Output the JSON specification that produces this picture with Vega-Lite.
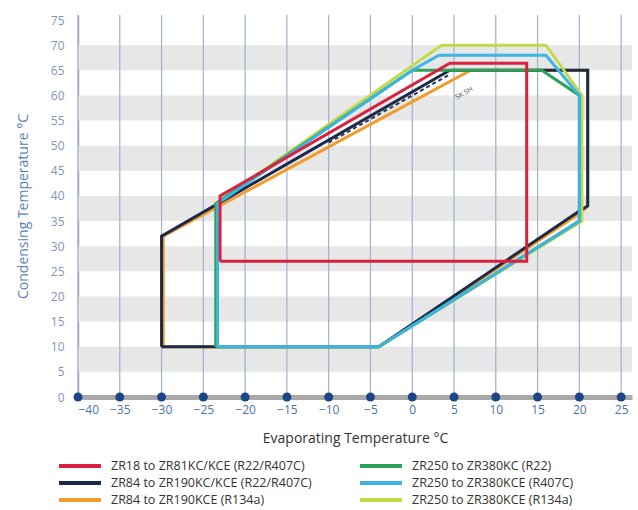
{
  "$schema": "https://vega.github.io/schema/vega-lite/v6.json",
  "autosize": {"type": "none"},
  "padding": {"left": 78, "top": 15, "right": 6, "bottom": 113},
  "width": 554,
  "height": 382,
  "background": "white",
  "config": {
    "view": {"stroke": null},
    "font": "Open Sans",
    "axis": {"labelOverlap": false, "labelSeparation": 0},
    "axisY": {"labelOverlap": false},
    "axisX": {"labelOverlap": false}
  },
  "datasets": {
    "bands": [
      {"lo": 5, "hi": 10}, {"lo": 15, "hi": 20}, {"lo": 25, "hi": 30},
      {"lo": 35, "hi": 40}, {"lo": 45, "hi": 50}, {"lo": 55, "hi": 60}, {"lo": 65, "hi": 70}
    ],
    "ticks": [
      {"t": -40}, {"t": -35}, {"t": -30}, {"t": -25}, {"t": -20}, {"t": -15}, {"t": -10},
      {"t": -5}, {"t": 0}, {"t": 5}, {"t": 10}, {"t": 15}, {"t": 20}, {"t": 25}
    ],
    "env": [
      {"s": "ZR84 to ZR190KCE (R134a)", "i": 0, "x": -29.8, "y": 10},
      {"s": "ZR84 to ZR190KCE (R134a)", "i": 1, "x": -29.8, "y": 32},
      {"s": "ZR84 to ZR190KCE (R134a)", "i": 2, "x": 7, "y": 65},
      {"s": "ZR84 to ZR190KCE (R134a)", "i": 3, "x": 21, "y": 65},
      {"s": "ZR84 to ZR190KCE (R134a)", "i": 4, "x": 21, "y": 38},
      {"s": "ZR84 to ZR190KCE (R134a)", "i": 5, "x": 20, "y": 36.5},
      {"s": "ZR84 to ZR190KCE (R134a)", "i": 6, "x": -4, "y": 10},
      {"s": "ZR84 to ZR190KCE (R134a)", "i": 7, "x": -29.8, "y": 10},

      {"s": "ZR84 to ZR190KC/KCE (R22/R407C)", "i": 0, "x": -30, "y": 10},
      {"s": "ZR84 to ZR190KC/KCE (R22/R407C)", "i": 1, "x": -30, "y": 32},
      {"s": "ZR84 to ZR190KC/KCE (R22/R407C)", "i": 2, "x": 4.5, "y": 65},
      {"s": "ZR84 to ZR190KC/KCE (R22/R407C)", "i": 3, "x": 21, "y": 65},
      {"s": "ZR84 to ZR190KC/KCE (R22/R407C)", "i": 4, "x": 21, "y": 38},
      {"s": "ZR84 to ZR190KC/KCE (R22/R407C)", "i": 5, "x": 20, "y": 37},
      {"s": "ZR84 to ZR190KC/KCE (R22/R407C)", "i": 6, "x": -4, "y": 10},
      {"s": "ZR84 to ZR190KC/KCE (R22/R407C)", "i": 7, "x": -30, "y": 10},

      {"s": "ZR250 to ZR380KCE (R134a)", "i": 0, "x": -23.5, "y": 10},
      {"s": "ZR250 to ZR380KCE (R134a)", "i": 1, "x": -23.5, "y": 38.5},
      {"s": "ZR250 to ZR380KCE (R134a)", "i": 2, "x": 3.5, "y": 70},
      {"s": "ZR250 to ZR380KCE (R134a)", "i": 3, "x": 16, "y": 70},
      {"s": "ZR250 to ZR380KCE (R134a)", "i": 4, "x": 20.3, "y": 60},
      {"s": "ZR250 to ZR380KCE (R134a)", "i": 5, "x": 20.3, "y": 35},
      {"s": "ZR250 to ZR380KCE (R134a)", "i": 6, "x": -4, "y": 10},
      {"s": "ZR250 to ZR380KCE (R134a)", "i": 7, "x": -23.5, "y": 10},

      {"s": "ZR250 to ZR380KC (R22)", "i": 0, "x": -23.5, "y": 10},
      {"s": "ZR250 to ZR380KC (R22)", "i": 1, "x": -23.5, "y": 38.5},
      {"s": "ZR250 to ZR380KC (R22)", "i": 2, "x": 0, "y": 65},
      {"s": "ZR250 to ZR380KC (R22)", "i": 3, "x": 15.5, "y": 65},
      {"s": "ZR250 to ZR380KC (R22)", "i": 4, "x": 20, "y": 60},
      {"s": "ZR250 to ZR380KC (R22)", "i": 5, "x": 20, "y": 35},
      {"s": "ZR250 to ZR380KC (R22)", "i": 6, "x": -4, "y": 10},
      {"s": "ZR250 to ZR380KC (R22)", "i": 7, "x": -23.5, "y": 10},

      {"s": "ZR250 to ZR380KCE (R407C)", "i": 0, "x": -23.3, "y": 10},
      {"s": "ZR250 to ZR380KCE (R407C)", "i": 1, "x": -23.3, "y": 38.5},
      {"s": "ZR250 to ZR380KCE (R407C)", "i": 2, "x": 0, "y": 65},
      {"s": "ZR250 to ZR380KCE (R407C)", "i": 3, "x": 3.2, "y": 68},
      {"s": "ZR250 to ZR380KCE (R407C)", "i": 4, "x": 16, "y": 68},
      {"s": "ZR250 to ZR380KCE (R407C)", "i": 5, "x": 20, "y": 60},
      {"s": "ZR250 to ZR380KCE (R407C)", "i": 6, "x": 20, "y": 35},
      {"s": "ZR250 to ZR380KCE (R407C)", "i": 7, "x": -4, "y": 10},
      {"s": "ZR250 to ZR380KCE (R407C)", "i": 8, "x": -23.3, "y": 10},

      {"s": "ZR18 to ZR81KC/KCE (R22/R407C)", "i": 0, "x": -23, "y": 27},
      {"s": "ZR18 to ZR81KC/KCE (R22/R407C)", "i": 1, "x": -23, "y": 40},
      {"s": "ZR18 to ZR81KC/KCE (R22/R407C)", "i": 2, "x": 4.5, "y": 66.4},
      {"s": "ZR18 to ZR81KC/KCE (R22/R407C)", "i": 3, "x": 13.7, "y": 66.4},
      {"s": "ZR18 to ZR81KC/KCE (R22/R407C)", "i": 4, "x": 13.7, "y": 27},
      {"s": "ZR18 to ZR81KC/KCE (R22/R407C)", "i": 5, "x": -23, "y": 27}
    ],
    "sh": [
      {"i": 0, "x": -10, "y": 50.6},
      {"i": 1, "x": 4.5, "y": 64.2}
    ],
    "shlabel": [
      {"x": 6.2, "y": 60.4, "t": "5K SH"}
    ]
  },
  "layer": [
    {
      "data": {"name": "bands"},
      "mark": {"type": "rect", "color": "#e7e7e7"},
      "encoding": {
        "y": {"field": "lo", "type": "quantitative", "scale": {"domain": [0, 76], "nice": false, "zero": false},
          "axis": {
            "values": [0, 5, 10, 15, 20, 25, 30, 35, 40, 45, 50, 55, 60, 65, 70, 75],
            "tickCount": 16,
            "grid": false, "ticks": false, "labelOverlap": false,
            "domainColor": "#9aa3b5", "domainWidth": 1.5,
            "labelColor": "#8394b6", "labelFontSize": 12, "labelPadding": 14,
            "title": "Condensing Temperature °C", "titleColor": "#5d82b8", "titleFontSize": 14,
            "titleFontWeight": "normal", "titlePadding": 20
          }},
        "y2": {"field": "hi"}
      }
    },
    {
      "data": {"name": "ticks"},
      "mark": {"type": "rule", "color": "#9db0cf", "strokeWidth": 1.2},
      "encoding": {
        "x": {"field": "t", "type": "quantitative",
          "scale": {"domain": [-40, 26.3], "nice": false, "zero": false},
          "axis": {
            "values": [-40, -35, -30, -25, -20, -15, -10, -5, 0, 5, 10, 15, 20, 25],
            "grid": false, "ticks": false, "labelOverlap": false,
            "domainColor": "#a9a9a9", "domainWidth": 5,
            "labelColor": "#4e73a8", "labelFontSize": 12, "labelPadding": 7,
            "title": "Evaporating Temperature °C", "titleColor": "#333333", "titleFontSize": 14,
            "titleFontWeight": "normal", "titlePadding": 16
          }}
      }
    },
    {
      "data": {"name": "env"},
      "mark": {"type": "line", "strokeWidth": 3, "strokeJoin": "miter"},
      "encoding": {
        "x": {"field": "x", "type": "quantitative"},
        "y": {"field": "y", "type": "quantitative"},
        "order": {"field": "i", "type": "quantitative"},
        "color": {
          "field": "s", "type": "nominal",
          "scale": {
            "domain": [
              "ZR18 to ZR81KC/KCE (R22/R407C)",
              "ZR84 to ZR190KC/KCE (R22/R407C)",
              "ZR84 to ZR190KCE (R134a)",
              "ZR250 to ZR380KC (R22)",
              "ZR250 to ZR380KCE (R407C)",
              "ZR250 to ZR380KCE (R134a)"
            ],
            "range": ["#d7213f", "#1c2a4a", "#f39b2a", "#2ba256", "#3cb5e5", "#c4d94a"]
          },
          "legend": {
            "orient": "none", "legendX": -7, "legendY": 442, "columns": 2, "padding": 0,
            "title": null, "symbolType": "M-3,0H3", "symbolStrokeWidth": 4, "symbolSize": 196,
            "symbolFillColor": "transparent",
            "labelFontSize": 12.5, "labelColor": "#333333", "labelLimit": 400,
            "columnPadding": 40, "rowPadding": 0, "labelOffset": 22
          }
        }
      }
    },
    {
      "data": {"name": "sh"},
      "mark": {"type": "line", "strokeWidth": 2, "strokeDash": [4, 3], "color": "#2a3550"},
      "encoding": {
        "x": {"field": "x", "type": "quantitative"},
        "y": {"field": "y", "type": "quantitative"},
        "order": {"field": "i", "type": "quantitative"}
      }
    },
    {
      "data": {"name": "shlabel"},
      "mark": {"type": "text", "angle": 331, "fontSize": 7, "color": "#555555"},
      "encoding": {
        "x": {"field": "x", "type": "quantitative"},
        "y": {"field": "y", "type": "quantitative"},
        "text": {"field": "t"}
      }
    },
    {
      "data": {"name": "ticks"},
      "mark": {"type": "point", "filled": true, "size": 80, "color": "#1b4586", "opacity": 1},
      "encoding": {
        "x": {"field": "t", "type": "quantitative"},
        "y": {"datum": 0}
      }
    }
  ]
}
